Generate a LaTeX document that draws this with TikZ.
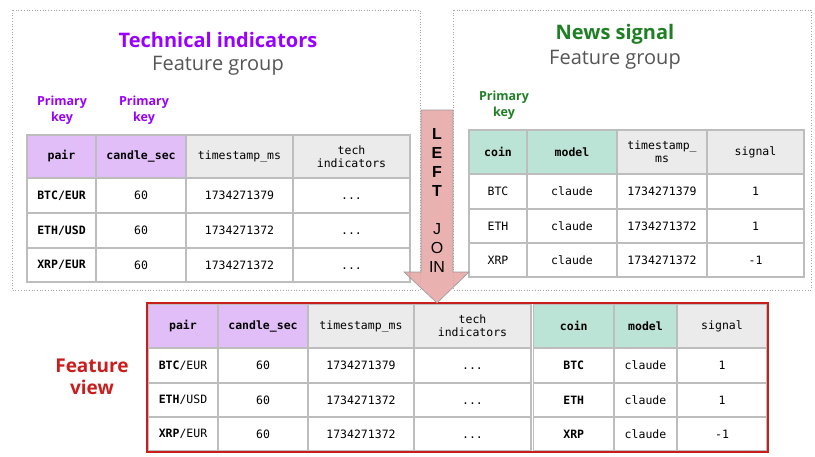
\documentclass[tikz,border=0pt]{standalone}
\usepackage{fontspec}
\setmainfont{Open Sans}
\setmonofont{DejaVu Sans Mono}
\newfontfamily\arialf{Liberation Sans}
\definecolor{purp}{HTML}{9900FF}
\definecolor{grn}{HTML}{1F7F24}
\definecolor{redc}{HTML}{C81E1E}
\definecolor{gtxt}{HTML}{555555}
\definecolor{pfill}{HTML}{E2BEF9}
\definecolor{gfill}{HTML}{BCE4D6}
\definecolor{hfill}{HTML}{EBEBEB}
\definecolor{gridc}{HTML}{BDBDBD}
\definecolor{arrf}{HTML}{E6A3A3}
\newcommand\tc[7]{\node[tcell,#6,minimum width={(#3)-(#2)},minimum height={(#5)-(#4)}] (#1) at ({((#2)+(#3))/2},{((#4)+(#5))/2}) {#7};}
\newcommand\dd{\vphantom{0}...}
\begin{document}
\begin{tikzpicture}[x=1pt,y=-1pt,
  tcell/.style={draw=gridc,line width=1.3pt,inner sep=0pt,fill=white,align=center,
    font=\ttfamily\fontsize{11.5}{13}\selectfont},
  ph/.style={fill=pfill,font=\ttfamily\bfseries\fontsize{11.5}{13}\selectfont},
  gh/.style={fill=gfill,font=\ttfamily\bfseries\fontsize{11.5}{13}\selectfont},
  hh/.style={fill=hfill},
  bd/.style={font=\ttfamily\bfseries\fontsize{11.5}{13}\selectfont},
  grp/.style={draw=gray!70,dotted,line width=0.7pt},
  ttl/.style={font=\bfseries\fontsize{20}{24}\selectfont},
  sub/.style={text=gtxt,font=\fontsize{20}{24}\selectfont},
  pk/.style={align=center,font=\bfseries\fontsize{12.5}{15.5}\selectfont},
]
\useasboundingbox (0,0) rectangle (815,456);
% group boxes
\draw[grp] (12,10) rectangle (420,290);
\draw[grp] (453,10) rectangle (811,290);
% titles
\node[ttl,text=purp] (t1) at (218,40) {Technical indicators};
\node[sub] (s1) at (218,66) {Feature group};
\node[ttl,text=grn] (t2) at (615,34) {News signal};
\node[sub] (s2) at (615,60) {Feature group};
\node[pk,text=purp] (pk1) at (62,110) {Primary\\key};
\node[pk,text=purp] (pk2) at (144,110) {Primary\\key};
\node[pk,text=grn] (pk3) at (504,105) {Primary\\key};
% left table
\tc{ah1}{27}{96}{135}{178}{ph}{pair}
\tc{ah2}{96}{186}{135}{178}{ph}{candle\_sec}
\tc{ah3}{186}{293}{135}{178}{hh}{timestamp\_ms}
\tc{ah4}{293}{410}{135}{178}{hh}{tech\\indicators}
\tc{a11}{27}{96}{178}{213}{bd}{BTC/EUR}
\tc{a12}{96}{186}{178}{213}{}{60}
\tc{a13}{186}{293}{178}{213}{}{1734271379}
\tc{a14}{293}{410}{178}{213}{}{\dd}
\tc{a21}{27}{96}{213}{248}{bd}{ETH/USD}
\tc{a22}{96}{186}{213}{248}{}{60}
\tc{a23}{186}{293}{213}{248}{}{1734271372}
\tc{a24}{293}{410}{213}{248}{}{\dd}
\tc{a31}{27}{96}{248}{282}{bd}{XRP/EUR}
\tc{a32}{96}{186}{248}{282}{}{60}
\tc{a33}{186}{293}{248}{282}{}{1734271372}
\tc{a34}{293}{410}{248}{282}{}{\dd}
% right table
\tc{bh1}{469}{527}{130}{174}{gh}{coin}
\tc{bh2}{527}{617}{130}{174}{gh}{model}
\tc{bh3}{617}{707}{130}{174}{hh}{timestamp\_\\ms}
\tc{bh4}{707}{804}{130}{174}{hh}{signal}
\tc{b11}{469}{527}{174}{209}{}{BTC}
\tc{b12}{527}{617}{174}{209}{}{claude}
\tc{b13}{617}{707}{174}{209}{}{1734271379}
\tc{b14}{707}{804}{174}{209}{}{1}
\tc{b21}{469}{527}{209}{243}{}{ETH}
\tc{b22}{527}{617}{209}{243}{}{claude}
\tc{b23}{617}{707}{209}{243}{}{1734271372}
\tc{b24}{707}{804}{209}{243}{}{1}
\tc{b31}{469}{527}{243}{277}{}{XRP}
\tc{b32}{527}{617}{243}{277}{}{claude}
\tc{b33}{617}{707}{243}{277}{}{1734271372}
\tc{b34}{707}{804}{243}{277}{}{-1}
% feature view table
\tc{ch1}{148}{218}{304}{348}{ph}{pair}
\tc{ch2}{218}{308}{304}{348}{ph}{candle\_sec}
\tc{ch3}{308}{414}{304}{348}{hh}{timestamp\_ms}
\tc{ch4}{414}{531}{304}{348}{hh}{tech\\indicators}
\tc{ch5}{533.5}{614}{304}{348}{gh}{coin}
\tc{ch6}{614}{677}{304}{348}{gh}{model}
\tc{ch7}{677}{767}{304}{348}{hh}{signal}
\tc{c11}{148}{218}{348}{383}{}{\textbf{BTC}/EUR}
\tc{c12}{218}{308}{348}{383}{}{60}
\tc{c13}{308}{414}{348}{383}{}{1734271379}
\tc{c14}{414}{531}{348}{383}{}{\dd}
\tc{c15}{533.5}{614}{348}{383}{bd}{BTC}
\tc{c16}{614}{677}{348}{383}{}{claude}
\tc{c17}{677}{767}{348}{383}{}{1}
\tc{c21}{148}{218}{383}{417}{}{\textbf{ETH}/USD}
\tc{c22}{218}{308}{383}{417}{}{60}
\tc{c23}{308}{414}{383}{417}{}{1734271372}
\tc{c24}{414}{531}{383}{417}{}{\dd}
\tc{c25}{533.5}{614}{383}{417}{bd}{ETH}
\tc{c26}{614}{677}{383}{417}{}{claude}
\tc{c27}{677}{767}{383}{417}{}{1}
\tc{c31}{148}{218}{417}{451}{}{\textbf{XRP}/EUR}
\tc{c32}{218}{308}{417}{451}{}{60}
\tc{c33}{308}{414}{417}{451}{}{1734271372}
\tc{c34}{414}{531}{417}{451}{}{\dd}
\tc{c35}{533.5}{614}{417}{451}{bd}{XRP}
\tc{c36}{614}{677}{417}{451}{}{claude}
\tc{c37}{677}{767}{417}{451}{}{-1}
\draw[redc,line width=2.6pt] (147,303) rectangle (768,452);
\node[text=redc,align=center,font=\bfseries\fontsize{19}{22}\selectfont] (fv) at (92,377) {Feature\\view};
% arrow
\path[fill=arrf,fill opacity=0.85,draw=gray!80,line width=0.6pt]
  (421,110) -- (453,110) -- (453,272) -- (469,272) -- (437,303) -- (404,272) -- (421,272) -- cycle;
\node[align=center,inner sep=0pt,font=\arialf\fontsize{16}{19}\selectfont] (lj) at (437,200)
  {\textbf{L}\\\textbf{E}\\\textbf{F}\\\textbf{T}\\[19pt]J\\O\\IN};
\end{tikzpicture}
\end{document}
